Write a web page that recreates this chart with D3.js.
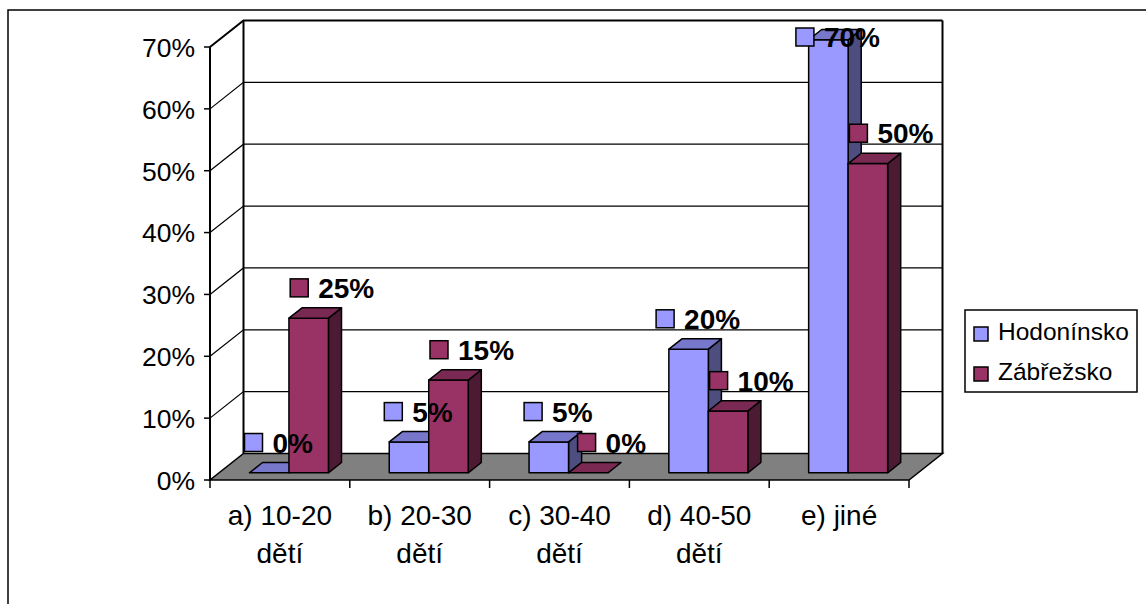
<!DOCTYPE html>
<html>
<head>
<meta charset="utf-8">
<script src="https://cdn.jsdelivr.net/npm/d3@7"></script>
<style>
  body { margin: 0; background: #fff; }
  text { font-family: "Liberation Sans", Arial, sans-serif; }
</style>
</head>
<body>
<script>
// chart data
const categories = [["a) 10-20", "dětí"], ["b) 20-30", "dětí"], ["c) 30-40", "dětí"], ["d) 40-50", "dětí"], ["e) jiné"]];
const series = ["Hodonínsko", "Zábřežsko"];
const hodoninsko = [0, 0.05, 0.05, 0.20, 0.70];
const zabrezsko = [0.25, 0.15, 0, 0.10, 0.50];
const yTicks = [0, 0.1, 0.2, 0.3, 0.4, 0.5, 0.6, 0.7];

const colors = {
  "Hodonínsko": { front: "#9999ff", top: "#7777cc", side: "#4d4d80" },
  "Zábřežsko": { front: "#993366", top: "#7a2952", side: "#4d1a33" }
};

const width = 1146, height = 604;
const DX = 33.5, DY = 26.5;   // depth offset of back wall
const z0 = 0.27, z1 = 0.66;   // bar depth range

const svg = d3.select("body").append("svg")
  .attr("width", width).attr("height", height);

// outer frame (extends past the window on right and bottom)
svg.append("rect")
  .attr("x", 8).attr("y", 10).attr("width", 1300).attr("height", 800)
  .attr("fill", "none").attr("stroke", "#000").attr("stroke-width", 1.5);

const x0 = d3.scaleBand().domain(d3.range(categories.length)).range([210, 909]);
const x1 = d3.scaleBand().domain(series).range([0, x0.bandwidth()]).paddingOuter(0.77);
const y = d3.scaleLinear().domain([0, 0.7]).range([480, 47]);

const P = (xf, v, z) => [xf + z * DX, y(v) - z * DY];
const poly = pts => "M" + pts.map(p => p.join(",")).join("L") + "Z";

const xl = x0.range()[0], xr = x0.range()[1];
const vMax = y.domain()[1];

// back wall
svg.append("path")
  .attr("d", poly([P(xl, 0, 1), P(xr, 0, 1), P(xr, vMax, 1), P(xl, vMax, 1)]))
  .attr("fill", "#fff");

// gridlines on back wall and side wall
const grid = svg.append("g").attr("stroke", "#000").attr("fill", "none");
yTicks.filter(v => v > 0).forEach(v => {
  grid.append("path").attr("d", "M" + P(xl, v, 0) + "L" + P(xl, v, 1) + "L" + P(xr, v, 1))
    .attr("stroke-width", v === vMax ? 2 : 1.2);
});

// wall edges
const edges = svg.append("g").attr("stroke", "#000").attr("stroke-width", 2).attr("fill", "none");
edges.append("path").attr("d", "M" + P(xl, 0, 0) + "L" + P(xl, vMax, 0));
edges.append("path").attr("d", "M" + P(xl, 0, 1) + "L" + P(xl, vMax, 1));
edges.append("path").attr("d", "M" + P(xr, 0, 1) + "L" + P(xr, vMax, 1));

// floor
svg.append("path")
  .attr("d", poly([P(xl, 0, 0), P(xr, 0, 0), P(xr, 0, 1), P(xl, 0, 1)]))
  .attr("fill", "#808080").attr("stroke", "#000").attr("stroke-width", 1.5);

// y axis ticks + labels
const yAxis = svg.append("g");
yTicks.forEach(v => {
  yAxis.append("line").attr("x1", xl - 6).attr("x2", xl).attr("y1", y(v)).attr("y2", y(v))
    .attr("stroke", "#000").attr("stroke-width", 1.5);
  yAxis.append("text").attr("x", 195).attr("y", y(v)).attr("dy", "0.37em")
    .attr("text-anchor", "end").attr("font-size", 26.5).attr("fill", "#000")
    .text(d3.format(".0%")(v));
});

// x axis ticks + labels
const xAxis = svg.append("g");
d3.range(categories.length + 1).forEach(i => {
  const xx = i < categories.length ? x0(i) : xr;
  xAxis.append("line").attr("x1", xx).attr("x2", xx).attr("y1", y(0)).attr("y2", y(0) + 8)
    .attr("stroke", "#000").attr("stroke-width", 1.5);
});
categories.forEach((lines, i) => {
  const t = xAxis.append("text").attr("text-anchor", "middle").attr("font-size", 28).attr("fill", "#000");
  lines.forEach((ln, j) => {
    t.append("tspan").attr("x", x0(i) + x0.bandwidth() / 2).attr("y", 525 + j * 38).text(ln);
  });
});

// bars
const values = { "Hodonínsko": hodoninsko, "Zábřežsko": zabrezsko };
const bars = svg.append("g").attr("stroke", "#000").attr("stroke-width", 1.5).attr("stroke-linejoin", "round");
categories.forEach((c, i) => {
  series.forEach(s => {
    const v = values[s][i];
    const a = x0(i) + x1(s), b = a + x1.bandwidth();
    const col = colors[s];
    if (v > 0) {
      bars.append("path").attr("fill", col.side)
        .attr("d", poly([P(b, 0, z0), P(b, 0, z1), P(b, v, z1), P(b, v, z0)]));
      bars.append("path").attr("fill", col.front)
        .attr("d", poly([P(a, 0, z0), P(b, 0, z0), P(b, v, z0), P(a, v, z0)]));
    }
    bars.append("path").attr("fill", col.top)
      .attr("d", poly([P(a, v, z0), P(b, v, z0), P(b, v, z1), P(a, v, z1)]));
  });
});

// data labels
const labels = svg.append("g");
categories.forEach((c, i) => {
  series.forEach((s, k) => {
    const v = values[s][i];
    const a = x0(i) + x1(s), b = a + x1.bandwidth();
    const cx = (a + b) / 2 + ((z0 + z1) / 2) * DX + 3 + 14 * k;
    const cy = Math.max(37, y(v) - z1 * DY - 20);
    const g = labels.append("g");
    const t = g.append("text").attr("font-size", 28).attr("font-weight", "bold").attr("fill", "#000")
      .attr("y", cy + 10).text(d3.format(".0%")(v));
    const tw = t.node().getComputedTextLength();
    const total = 18 + 10 + tw;
    const left = cx - total / 2;
    g.insert("rect", "text").attr("x", left).attr("y", cy - 9).attr("width", 18).attr("height", 18)
      .attr("fill", colors[s].front).attr("stroke", "#000").attr("stroke-width", 1.5);
    t.attr("x", left + 28);
  });
});

// legend
const legend = svg.append("g");
legend.append("rect").attr("x", 965).attr("y", 310).attr("width", 172).attr("height", 82)
  .attr("fill", "#fff").attr("stroke", "#000").attr("stroke-width", 1.5);
series.forEach((s, k) => {
  legend.append("rect").attr("x", 974).attr("y", 327 + k * 40).attr("width", 14).attr("height", 14)
    .attr("fill", colors[s].front).attr("stroke", "#000").attr("stroke-width", 1.5);
  legend.append("text").attr("x", 998).attr("y", 340 + k * 40).attr("font-size", 24.5).attr("fill", "#000").text(s);
});
</script>
</body>
</html>
